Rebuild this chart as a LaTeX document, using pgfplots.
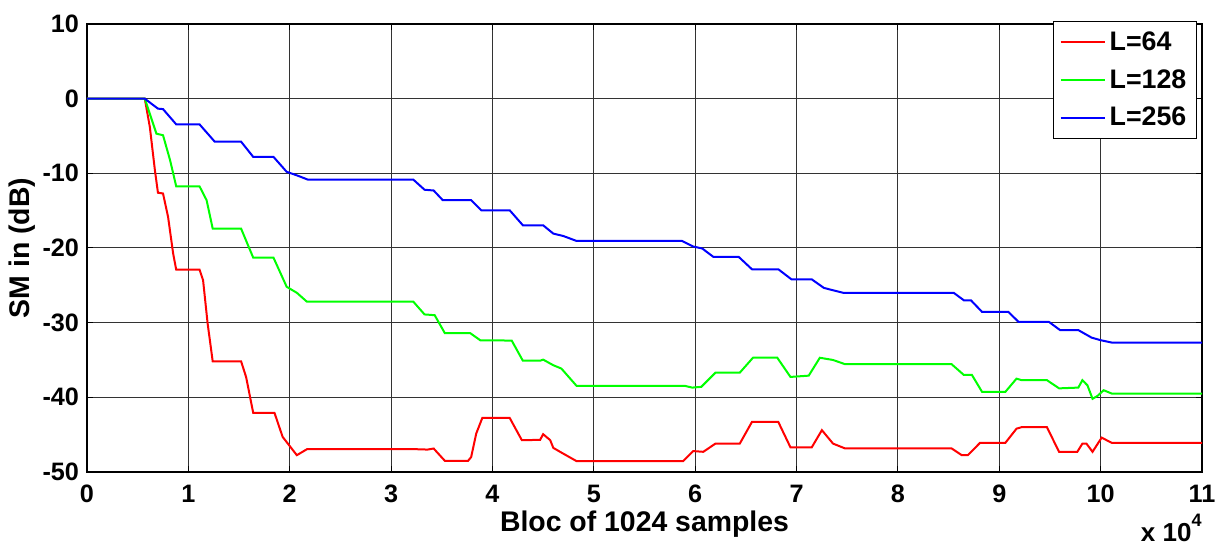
\documentclass[border=0pt]{standalone}
\usepackage{fontspec}
\setmainfont{Liberation Sans}
\usepackage{pgfplots}
\pgfplotsset{compat=1.18}
\begin{document}
\begin{tikzpicture}
\begin{axis}[
  width=557.5pt, height=224pt, scale only axis,
  xmin=0, xmax=11, ymin=-50, ymax=10,
  xtick={0,1,...,11}, ytick={-50,-40,...,10},
  grid=major,
  major grid style={line width=0.5pt, black!80},
  axis line style={line width=0.6pt, black},
  tick align=inside, major tick length=3pt,
  tick style={black, line width=0.5pt},
  /pgf/number format/assume math mode=true,
  ticklabel style={font=\fontsize{12.6}{14}\selectfont\bfseries},
  xticklabel style={yshift=-3pt},
  yticklabel style={xshift=-0.5pt},
  xlabel={Bloc of 1024 samples},
  ylabel={SM in (dB)},
  label style={font=\fontsize{14.2}{16}\selectfont\bfseries},
  xlabel style={at={(axis description cs:0.5,0)}, anchor=center, yshift=-26pt},
  ylabel style={at={(axis description cs:0,0.5)}, anchor=center, yshift=32.5pt},
  legend style={at={(rel axis cs:0.9955,1.0067)}, anchor=north east,
    draw=black, line width=0.6pt, font=\fontsize{13.4}{15}\selectfont\bfseries,
    inner sep=3pt, row sep=4pt, cells={anchor=west}},
  legend image code/.code={\draw[#1, line width=1pt] (0pt,0pt) -- (22pt,0pt);},
]
\addplot[red, line width=1pt] coordinates {
(0,0)(0.57,0)(0.62,-3.8)(0.67,-9.6)(0.70,-12.6)(0.75,-12.7)(0.80,-15.85)(0.85,-20.75)(0.88,-22.9)(1.11,-22.9)(1.145,-24.3)(1.19,-30.1)(1.24,-35.17)(1.52,-35.17)(1.57,-37.3)(1.64,-42.1)(1.85,-42.1)(1.93,-45.3)(2.07,-47.75)(2.17,-46.95)(3.25,-46.95)(3.36,-47.0)(3.42,-46.86)(3.53,-48.5)(3.76,-48.5)(3.79,-48.0)(3.84,-44.85)(3.90,-42.76)(4.17,-42.76)(4.29,-45.74)(4.47,-45.7)(4.50,-44.94)(4.57,-45.74)(4.60,-46.77)(4.68,-47.4)(4.83,-48.55)(5.88,-48.55)(5.98,-47.2)(6.08,-47.3)(6.20,-46.2)(6.44,-46.2)(6.56,-43.3)(6.82,-43.3)(6.94,-46.7)(7.15,-46.7)(7.25,-44.4)(7.36,-46.2)(7.48,-46.85)(8.53,-46.85)(8.63,-47.75)(8.69,-47.75)(8.81,-46.1)(9.06,-46.1)(9.17,-44.2)(9.22,-44.0)(9.47,-44.0)(9.59,-47.3)(9.77,-47.3)(9.82,-46.2)(9.86,-46.2)(9.92,-47.3)(10.01,-45.4)(10.11,-46.1)(11,-46.1)
};
\addlegendentry{L=64}
\addplot[green, line width=1pt] coordinates {
(0,0)(0.57,0)(0.685,-4.69)(0.75,-4.9)(0.82,-8.26)(0.88,-11.74)(1.11,-11.74)(1.18,-13.6)(1.24,-17.4)(1.52,-17.4)(1.64,-21.3)(1.84,-21.3)(1.97,-25.2)(2.07,-26.0)(2.17,-27.2)(3.22,-27.2)(3.33,-28.9)(3.43,-29.0)(3.53,-31.4)(3.78,-31.4)(3.88,-32.36)(4.19,-32.4)(4.30,-35.1)(4.47,-35.1)(4.50,-34.95)(4.60,-35.7)(4.68,-36.15)(4.83,-38.47)(5.90,-38.47)(5.97,-38.7)(6.06,-38.6)(6.20,-36.7)(6.44,-36.7)(6.57,-34.7)(6.81,-34.7)(6.94,-37.27)(7.12,-37.1)(7.23,-34.7)(7.36,-35.0)(7.48,-35.57)(8.53,-35.57)(8.65,-37.0)(8.73,-37.0)(8.83,-39.27)(9.06,-39.27)(9.17,-37.5)(9.22,-37.7)(9.47,-37.7)(9.59,-38.8)(9.78,-38.7)(9.82,-37.7)(9.87,-38.4)(9.92,-40.2)(9.97,-39.8)(10.03,-39.05)(10.11,-39.5)(11,-39.5)
};
\addlegendentry{L=128}
\addplot[blue, line width=1pt] coordinates {
(0,0)(0.57,0)(0.70,-1.34)(0.75,-1.4)(0.88,-3.44)(1.11,-3.44)(1.26,-5.76)(1.52,-5.76)(1.64,-7.8)(1.84,-7.8)(1.97,-9.8)(2.07,-10.27)(2.18,-10.85)(3.22,-10.85)(3.33,-12.2)(3.42,-12.3)(3.51,-13.6)(3.79,-13.6)(3.89,-14.95)(4.17,-14.95)(4.30,-16.96)(4.50,-16.96)(4.60,-18.07)(4.70,-18.4)(4.83,-19.06)(5.87,-19.06)(5.98,-19.8)(6.07,-20.07)(6.18,-21.2)(6.43,-21.2)(6.56,-22.85)(6.82,-22.85)(6.95,-24.2)(7.15,-24.2)(7.27,-25.35)(7.36,-25.66)(7.46,-26.0)(8.55,-26.0)(8.65,-27.0)(8.72,-27.0)(8.83,-28.56)(9.09,-28.56)(9.19,-29.9)(9.49,-29.9)(9.60,-31.0)(9.78,-31.0)(9.91,-32.0)(10.0,-32.35)(10.11,-32.67)(11,-32.67)
};
\addlegendentry{L=256}
\end{axis}
\node[anchor=north east, inner sep=0pt, font=\fontsize{13}{15}\selectfont\bfseries]
  at ([yshift=-21pt]current axis.south east) {x 10\raisebox{0.55em}{\fontsize{9}{10}\selectfont 4}};
\pgfresetboundingbox
\path[use as bounding box] ([shift={(-43.5pt,-40pt)}]current axis.south west) rectangle ([shift={(12.5pt,12pt)}]current axis.north east);
\end{tikzpicture}
\end{document}
